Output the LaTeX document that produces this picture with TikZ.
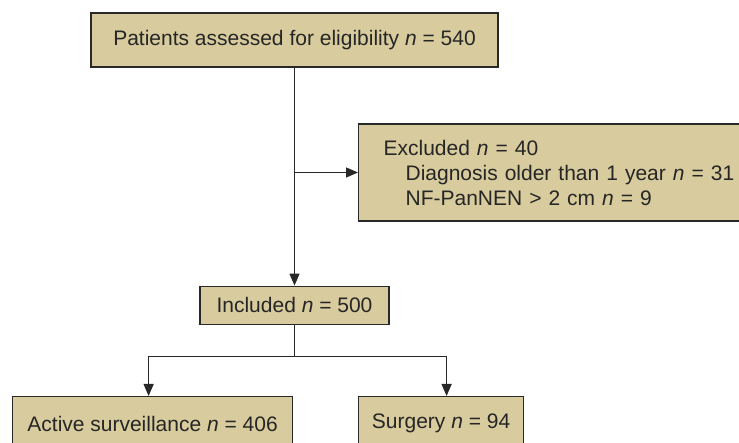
\documentclass[tikz,border=0pt]{standalone}
\usepackage{fontspec}
\setmainfont{Liberation Sans}
\usepackage{xcolor}
\usetikzlibrary{arrows.meta, positioning}
\definecolor{flowtan}{RGB}{216, 203, 158}
\definecolor{flowline}{RGB}{40, 40, 40}

\begin{document}
\begin{tikzpicture}[
    x=1pt, y=1pt,
    box/.style={rectangle, draw=flowline, fill=flowtan, line width=1.2pt, text=black!85, align=center, font=\fontsize{21}{25}\selectfont},
    exclbox/.style={box, align=left, text width=360pt, inner xsep=25pt, minimum height=97pt},
    arrow/.style={-{Triangle[length=12pt, width=10pt]}, line width=1.2pt, draw=flowline},
    link/.style={line width=1.2pt, draw=flowline}
]
\useasboundingbox (0,0) rectangle (739,-443);
\clip (0,0) rectangle (739,-443);

% Assessed
\node[box, minimum width=407pt, minimum height=54pt] (patients) at (294.5,-40) {Patients assessed for eligibility \textit{n} = 540};

% Excluded
\node[exclbox, anchor=west] (excluded) at (358,-172.5) {Excluded \textit{n} = 40\\
\hspace*{22pt}Diagnosis older than 1 year \textit{n} = 31\\
\hspace*{22pt}NF-PanNEN > 2 cm \textit{n} = 9};

% Included
\node[box, below=218pt of patients, minimum width=189pt, minimum height=38pt] (included) {Included \textit{n} = 500};

% Groups
\node[box, anchor=north west, minimum width=280pt, minimum height=54pt] (active) at (12,-396) {Active surveillance \textit{n} = 406};
\node[box, anchor=north west, minimum width=165pt, minimum height=54pt] (surgery) at (excluded.west |- active.north) {Surgery \textit{n} = 94};

% Arrows
\coordinate (branch) at (patients |- excluded.west);
\coordinate[below=32pt of included] (split);
\draw[arrow] (patients) -- (included);
\draw[arrow] (branch) -- (excluded);
\draw[link] (included) -- (split);
\draw[arrow] (split) -| ([xshift=-4pt]active.north);
\draw[arrow] (split) -| ([xshift=5.5pt]surgery.north);

\end{tikzpicture}
\end{document}
